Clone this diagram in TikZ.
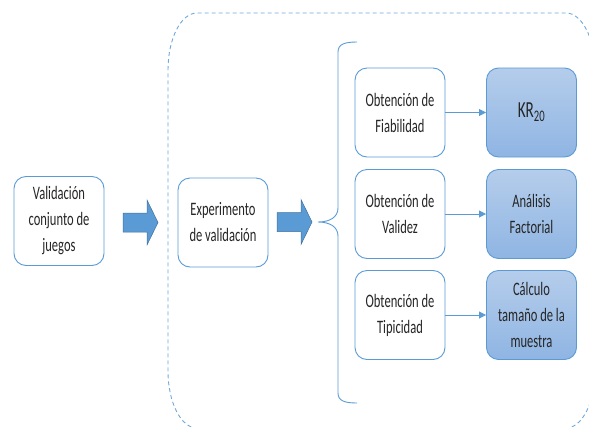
\documentclass[tikz,border=0pt]{standalone}
\usepackage{fontspec}
\setmainfont{Carlito}[FakeStretch=0.66]
\usetikzlibrary{arrows.meta}
\definecolor{obl}{HTML}{5B9BD5}
\definecolor{obd}{HTML}{41719C}
\definecolor{dashc}{HTML}{6FA8DC}
\definecolor{txt}{HTML}{262626}
\definecolor{ftop}{HTML}{B5CDEB}
\definecolor{fbot}{HTML}{8FB5E3}
\tikzset{
  x=1pt, y=1pt,
  wbox/.style={draw=obl, line width=0.9pt, fill=white, rounded corners=12pt,
    minimum width=90pt, minimum height=89pt, inner sep=0pt, align=center,
    text=txt, font=\fontsize{19}{26}\selectfont},
  bbox/.style={wbox, top color=ftop, bottom color=fbot},
  link/.style={draw=obl, line width=0.8pt, -{Triangle[length=7pt,width=7pt]}},
  blockarrow/.style={fill=obl, draw=obd, line width=0.5pt},
}
\begin{document}
\begin{tikzpicture}
\useasboundingbox (0,0) rectangle (589,-426);
\begin{scope}
\clip (0,0) rectangle (589,-426);
% dashed container
\draw[dashc, line width=0.9pt, dash pattern=on 4pt off 3pt]
  (168,-70) arc[start angle=180, end angle=90, x radius=29, y radius=57]
  -- (566,-13) arc[start angle=90, end angle=0, x radius=29, y radius=57]
  -- (595,-371) arc[start angle=0, end angle=-90, x radius=29, y radius=57]
  -- (197,-428) arc[start angle=-90, end angle=-180, x radius=29, y radius=57]
  -- cycle;
\end{scope}

% nodes
\node[wbox] (val) at (59,-221) {Validación\\conjunto de\\juegos};
\node[wbox] (exp) at (223,-222.5) {Experimento\\de validación};
\node[wbox] (fia) at (400,-112.5) {Obtención de\\Fiabilidad};
\node[wbox] (vali) at (400,-214) {Obtención de\\Validez};
\node[wbox] (tip) at (400,-315) {Obtención de\\Tipicidad};
\node[bbox, font=\fontsize{23}{28}\selectfont] (kr) at (531.5,-112.5) {KR\textsubscript{20}};
\node[bbox] (af) at (531.5,-214) {Análisis\\Factorial};
\node[bbox] (cal) at (531.5,-315) {Cálculo\\tamaño de la\\muestra};

% block arrows
\coordinate (a1) at (123,-222.5);
\draw[blockarrow] (a1) ++(0,9.5) -- ++(24,0) -- ++(0,13) -- (158,-222.5) -- (147,-245) -- ++(0,13) -- ++(-24,0) -- cycle;
\coordinate (a2) at (277,-222);
\draw[blockarrow] (a2) ++(0,9.5) -- ++(24,0) -- ++(0,13) -- (312,-222) -- (301,-244.5) -- ++(0,13) -- ++(-24,0) -- cycle;

% brace
\coordinate (btip) at (318,-222);
\draw[obl, line width=0.9pt]
  (357,-42) .. controls (345,-42) and (338,-44) .. (338,-52)
  -- (338,-208) .. controls (338,-217) and (330,-222) .. (btip)
  .. controls (330,-222) and (338,-227) .. (338,-236)
  -- (338,-393) .. controls (338,-401) and (345,-403) .. (357,-403);

% links
\draw[link] (fia.east) -- (kr.west);
\draw[link] (vali.east) -- (af.west);
\draw[link] (tip.east) -- (cal.west);
\end{tikzpicture}
\end{document}
